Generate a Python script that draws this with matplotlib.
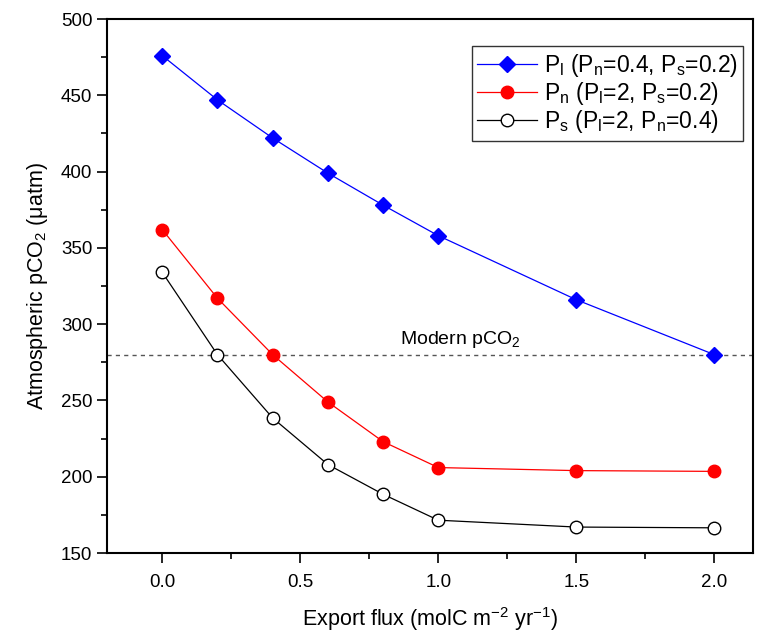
import matplotlib
matplotlib.use("Agg")
import matplotlib.pyplot as plt

plt.rcParams['font.family'] = ['Liberation Sans', 'DejaVu Sans']
plt.rcParams['mathtext.fontset'] = 'custom'
plt.rcParams['mathtext.rm'] = 'Liberation Sans'
plt.rcParams['mathtext.it'] = 'Liberation Sans'

export_flux = [0.0, 0.2, 0.4, 0.6, 0.8, 1.0, 1.5, 2.0]
pco2_pl = [476, 447, 422, 399, 378, 358, 316, 280]
pco2_pn = [362, 317, 280, 249, 223, 206, 204, 203.5]
pco2_ps = [334, 280, 238.5, 208, 188.5, 171.5, 167, 166.5]
modern_pco2 = 280

fig = plt.figure(figsize=(7.63, 6.42), dpi=100)
ax = fig.add_axes([107 / 763, 1 - 553 / 642, 646 / 763, 534 / 642])

ax.plot(export_flux, pco2_pl, color='blue', lw=0.9, marker='D', ms=8,
        mfc='blue', mec='blue',
        label=r'P$_\mathregular{l}$ (P$_\mathregular{n}$=0.4, P$_\mathregular{s}$=0.2)')
ax.plot(export_flux, pco2_pn, color='red', lw=0.9, marker='o', ms=9,
        mfc='red', mec='red',
        label=r'P$_\mathregular{n}$ (P$_\mathregular{l}$=2, P$_\mathregular{s}$=0.2)')
ax.plot(export_flux, pco2_ps, color='black', lw=0.9, marker='o', ms=9,
        mfc='white', mec='black',
        label=r'P$_\mathregular{s}$ (P$_\mathregular{l}$=2, P$_\mathregular{n}$=0.4)')

ax.axhline(modern_pco2, color='#555555', ls=(0, (3, 3)), lw=1.0, zorder=0)
ax.text(1.08, modern_pco2 + 3, r'Modern pCO$_\mathregular{2}$', ha='center',
        va='bottom', fontsize=14)

ax.set_xlim(-0.2, 2.14)
ax.set_ylim(150, 500)
ax.set_xticks([0.0, 0.5, 1.0, 1.5, 2.0])
ax.set_xticks([0.25, 0.75, 1.25, 1.75], minor=True)
ax.set_yticks(range(150, 501, 50))
ax.set_yticks(range(175, 500, 50), minor=True)
ax.xaxis.set_major_formatter(matplotlib.ticker.FormatStrFormatter('%.1f'))
ax.tick_params(which='major', direction='out', length=7, width=1.2, labelsize=13.5)
ax.tick_params(which='minor', direction='out', length=4, width=1.2)
ax.tick_params(axis='x', pad=8)
for s in ax.spines.values():
    s.set_linewidth(1.5)

ax.set_xlabel(r'Export flux (molC m$^\mathregular{-2}$ yr$^\mathregular{-1}$)',
              fontsize=15.5, labelpad=10)
ax.set_ylabel(r'Atmospheric pCO$_\mathregular{2}$ ($\mathregular{\mu}$atm)',
              fontsize=15.5, labelpad=8)

leg = ax.legend(loc='upper right', fontsize=16.5, frameon=True, fancybox=False,
                edgecolor='black', handlelength=2.6, borderpad=0.25,
                labelspacing=0.05, handletextpad=0.3,
                bbox_to_anchor=(1.003, 0.97))
leg.get_frame().set_linewidth(1.0)

fig.savefig('out.png', dpi=100)
